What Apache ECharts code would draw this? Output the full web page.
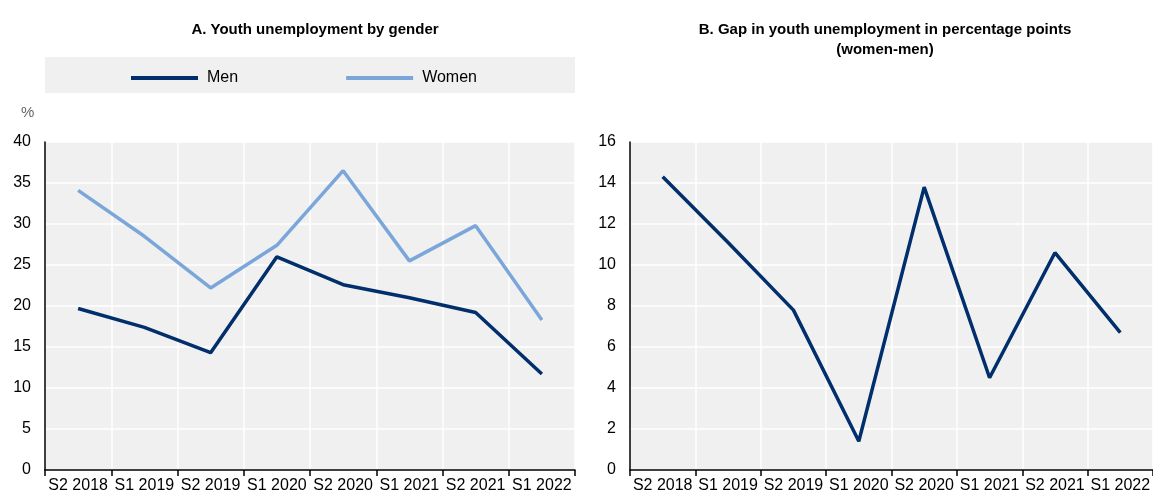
<!DOCTYPE html>
<html>
<head>
<meta charset="utf-8">
<script src="https://cdn.jsdelivr.net/npm/echarts@6/dist/echarts.min.js"></script>
<style>
html,body{margin:0;padding:0;background:#fff;}
#c{width:1153px;height:494px;}
</style>
</head>
<body>
<div id="c"></div>
<script>
var categories = ['S2 2018','S1 2019','S2 2019','S1 2020','S2 2020','S1 2021','S2 2021','S1 2022'];
var menValues = [19.7, 17.4, 14.3, 26.0, 22.6, 21.0, 19.2, 11.7];
var womenValues = [34.1, 28.5, 22.2, 27.4, 36.5, 25.5, 29.8, 18.3];
var gapValues = [14.3, 11.1, 7.8, 1.4, 13.8, 4.5, 10.6, 6.7];
var leftTicks = {min: 0, max: 40, interval: 5};
var rightTicks = {min: 0, max: 16, interval: 2};

var FONT = '"Liberation Sans Narrow", "Arial Narrow", "Liberation Sans", sans-serif';
var MEN = '#002F6C';
var WOMEN = '#7BA6DA';

function xAxis(gi) {
  return {
    type: 'category', gridIndex: gi, data: categories, boundaryGap: true,
    axisLine: {show: true, lineStyle: {color: '#000', width: 1.5}},
    axisTick: {show: true, length: 6, alignWithLabel: false, lineStyle: {color: '#000', width: 1.5}},
    axisLabel: {color: '#000', fontSize: 16, fontFamily: FONT, margin: 8, interval: 0},
    splitLine: {show: true, lineStyle: {color: '#fff', width: 1.5}}
  };
}
function yAxis(gi, t) {
  return {
    type: 'value', gridIndex: gi, min: t.min, max: t.max, interval: t.interval,
    axisLine: {show: true, lineStyle: {color: '#000', width: 1.5}},
    axisTick: {show: false},
    axisLabel: {color: '#000', fontSize: 16, fontFamily: FONT, margin: 14},
    splitLine: {show: true, lineStyle: {color: '#fff', width: 1.5}}
  };
}

var chart = echarts.init(document.getElementById('c'), null, {renderer: 'canvas'});
chart.setOption({
  backgroundColor: '#fff',
  animation: false,
  title: [
    {text: 'A. Youth unemployment by gender', left: 310, top: 17, textAlign: 'center',
     textStyle: {fontSize: 15, fontWeight: 'bold', fontFamily: FONT, color: '#000'}},
    {text: 'B. Gap in youth unemployment in percentage points\n(women-men)', left: 880, top: 15, textAlign: 'center',
     textStyle: {fontSize: 15, fontWeight: 'bold', fontFamily: FONT, color: '#000', lineHeight: 20}}
  ],
  graphic: [
    {type: 'rect', shape: {x: 45, y: 57, width: 530, height: 36}, style: {fill: '#f0f0f0'}, z: -1},
    {type: 'text', x: 21, y: 105, style: {text: '%', fontSize: 15, fontFamily: FONT, fill: '#666'}}
  ],
  legend: {
    data: ['Men', 'Women'], left: 126, top: 65, itemWidth: 67, itemHeight: 4, itemGap: 108,
    icon: 'rect',
    textStyle: {fontSize: 16, fontFamily: FONT, color: '#000', padding: [0, 0, 0, 4]}
  },
  grid: [
    {left: 45, top: 142, width: 530, height: 330, show: true, backgroundColor: '#f0f0f0', borderWidth: 0},
    {left: 630, top: 142, width: 528, height: 330, show: true, backgroundColor: '#f0f0f0', borderWidth: 0}
  ],
  xAxis: [xAxis(0), xAxis(1)],
  yAxis: [yAxis(0, leftTicks), yAxis(1, rightTicks)],
  series: [
    {name: 'Men', type: 'line', xAxisIndex: 0, yAxisIndex: 0, data: menValues, showSymbol: false, symbol: 'none',
     lineStyle: {color: MEN, width: 3.5}, itemStyle: {color: MEN}},
    {name: 'Women', type: 'line', xAxisIndex: 0, yAxisIndex: 0, data: womenValues, showSymbol: false, symbol: 'none',
     lineStyle: {color: WOMEN, width: 3.5}, itemStyle: {color: WOMEN}},
    {name: 'Gap', type: 'line', xAxisIndex: 1, yAxisIndex: 1, data: gapValues, showSymbol: false, symbol: 'none',
     lineStyle: {color: MEN, width: 3.5}, itemStyle: {color: MEN}}
  ]
});
</script>
</body>
</html>
